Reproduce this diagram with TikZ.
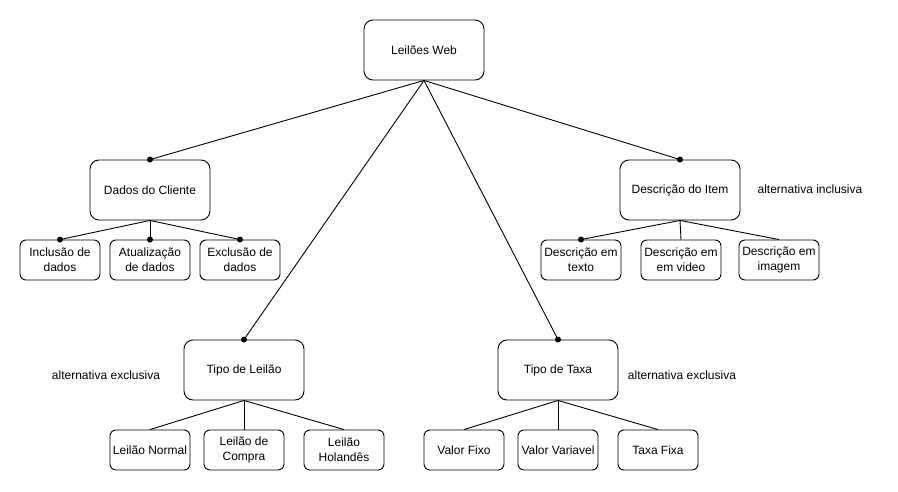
\documentclass[tikz,border=0pt]{standalone}
\usepackage{fontspec}
\setmainfont{Liberation Sans}
\begin{document}
\begin{tikzpicture}[x=1pt,y=-1pt,line width=0.9pt,
  txt/.style={font=\fontsize{12}{15}\selectfont},
  bigbox/.style={txt,draw,rounded corners=9pt,minimum width=120pt,minimum height=60pt,inner sep=0pt,align=center},
  smallbox/.style={txt,draw,rounded corners=6pt,minimum width=80pt,minimum height=40pt,inner sep=0pt,align=center},
  conn/.style={draw,line width=0.9pt},
  dotr/.style={fill}]
\useasboundingbox (0,0) rectangle (898,492);
\node[bigbox] (web) at (424,50) {Leilões Web};
\node[bigbox] (cli) at (150,190) {Dados do Cliente};
\node[smallbox] (c1) at (60,260) {Inclusão de\\dados};
\node[smallbox] (c2) at (150,260) {Atualização\\de dados};
\node[smallbox] (c3) at (240,260) {Exclusão de\\dados};
\node[bigbox] (item) at (680,190) {Descrição do Item};
\node[smallbox] (i1) at (581,260) {Descrição em\\texto};
\node[smallbox] (i2) at (681,260) {Descrição em\\em video};
\node[smallbox] (i3) at (779,260) {Descrição em\\imagem};
\node[txt] (incl) at (810,189) {alternativa inclusiva};
\node[bigbox] (leil) at (244,370) {Tipo de Leilão};
\node[smallbox] (l1) at (150,450) {Leilão Normal};
\node[smallbox] (l2) at (244,450) {Leilão de\\Compra};
\node[smallbox] (l3) at (344,450) {Leilão\\Holandês};
\node[txt] (exc1) at (106,375) {alternativa exclusiva};
\node[bigbox] (taxa) at (558,370) {Tipo de Taxa};
\node[smallbox] (t1) at (464,450) {Valor Fixo};
\node[smallbox] (t2) at (558,450) {Valor Variavel};
\node[smallbox] (t3) at (658,450) {Taxa Fixa};
\node[txt] (exc2) at (682,375) {alternativa exclusiva};
% connectors
\foreach \t in {cli,leil,taxa,item}{\draw[conn] (web.south) -- (\t.north); \fill (\t.north) circle (3pt);}
\foreach \t in {c1,c2,c3}{\draw[conn] (cli.south) -- (\t.north); \fill (\t.north) circle (3pt);}
\draw[conn] (item.south) -- (i1.north); \fill (i1.north) circle (3pt);
\draw[conn] (item.south) -- (i2.north);
\draw[conn] (item.south) -- (i3.north);
\foreach \t in {l1,l2,l3}{\draw[conn] (leil.south) -- (\t.north);}
\foreach \t in {t1,t2,t3}{\draw[conn] (taxa.south) -- (\t.north);}
\end{tikzpicture}
\end{document}
